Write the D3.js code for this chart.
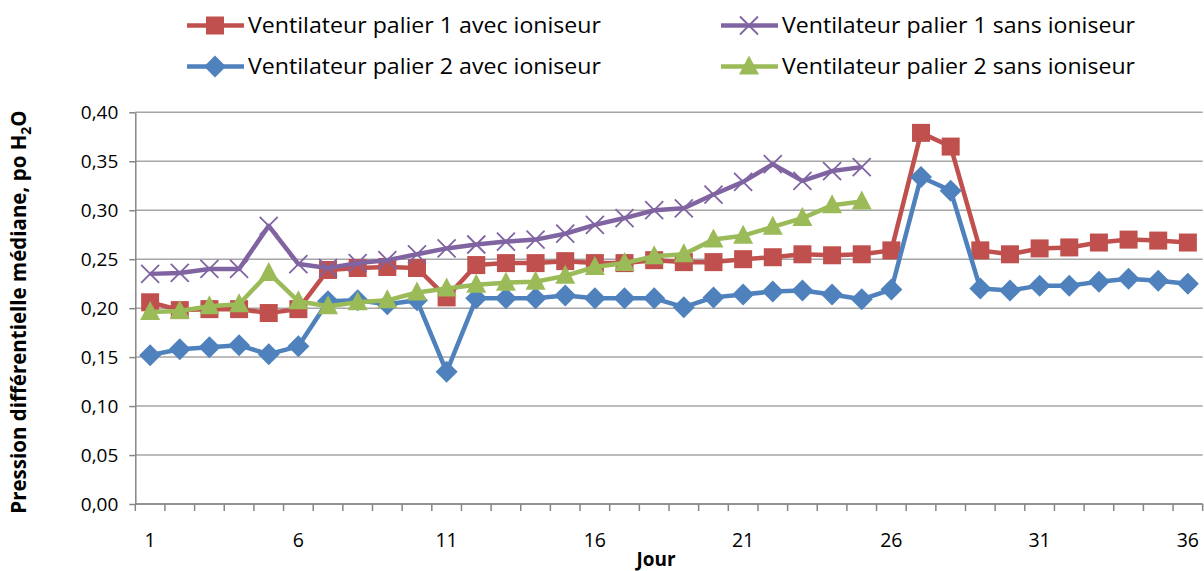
<!DOCTYPE html>
<html>
<head>
<meta charset="utf-8">
<script src="https://cdn.jsdelivr.net/npm/d3@7"></script>
<style>
  body { margin: 0; background: #fff; }
  svg { display: block; font-family: "Open Sans", sans-serif; }
</style>
</head>
<body>
<div id="graf"></div>
<script>
// jours 1..36
const jours = d3.range(1, 37);
const ticksX = [1, 6, 11, 16, 21, 26, 31, 36];
const ticksY = [0, 0.05, 0.10, 0.15, 0.20, 0.25, 0.30, 0.35, 0.40];

// palier 1 avec ioniseur (rouge)
const p1Avec = [0.206, 0.198, 0.199, 0.199, 0.195, 0.199, 0.239, 0.241, 0.242, 0.241,
  0.211, 0.244, 0.246, 0.246, 0.248, 0.246, 0.246, 0.249, 0.247, 0.247,
  0.250, 0.252, 0.255, 0.254, 0.255, 0.259, 0.379, 0.365, 0.259, 0.255,
  0.261, 0.262, 0.267, 0.270, 0.269, 0.267];
// palier 1 sans ioniseur (violet) - jusqu'au jour 25
const p1Sans = [0.235, 0.236, 0.240, 0.240, 0.284, 0.245, 0.241, 0.246, 0.249, 0.255,
  0.261, 0.265, 0.268, 0.270, 0.276, 0.285, 0.292, 0.300, 0.302, 0.316,
  0.329, 0.347, 0.330, 0.340, 0.344];
// palier 2 avec ioniseur (bleu)
const p2Avec = [0.152, 0.158, 0.160, 0.162, 0.153, 0.161, 0.207, 0.208, 0.204, 0.208,
  0.135, 0.210, 0.210, 0.210, 0.213, 0.210, 0.210, 0.210, 0.201, 0.211,
  0.214, 0.217, 0.218, 0.214, 0.209, 0.219, 0.334, 0.320, 0.220, 0.218,
  0.223, 0.223, 0.227, 0.230, 0.228, 0.225];
// palier 2 sans ioniseur (vert) - jusqu'au jour 25
const p2Sans = [0.196, 0.197, 0.202, 0.204, 0.236, 0.207, 0.202, 0.206, 0.208, 0.216,
  0.220, 0.224, 0.226, 0.227, 0.233, 0.242, 0.246, 0.253, 0.255, 0.270,
  0.274, 0.283, 0.292, 0.305, 0.309];

const series = [
  {nome: "Ventilateur palier 1 avec ioniseur", vals: p1Avec, cor: "#C0504D", marca: "quadrado"},
  {nome: "Ventilateur palier 1 sans ioniseur", vals: p1Sans, cor: "#8064A2", marca: "xis"},
  {nome: "Ventilateur palier 2 avec ioniseur", vals: p2Avec, cor: "#4F81BD", marca: "losango"},
  {nome: "Ventilateur palier 2 sans ioniseur", vals: p2Sans, cor: "#9BBB59", marca: "triangulo"}
];

const W = 1204, H = 571;
const esq = 135.3, dir = 1202.7, topo = 112.3, base = 504;

const svg = d3.select('#graf').append('svg')
  .attr('width', W).attr('height', H);

const x = d3.scaleBand().domain(jours).range([esq, dir]).paddingInner(0).paddingOuter(0);
const cx = d => x(d) + x.bandwidth() / 2;
const y = d3.scaleLinear().domain([0, 0.4]).range([base, topo]);

// grade
svg.append('g').selectAll('line').data(ticksY).join('line')
  .attr('x1', esq).attr('x2', dir)
  .attr('y1', d => y(d)).attr('y2', d => y(d))
  .attr('stroke', '#a6a6a6').attr('stroke-width', 1.5);

// eixo y
const eixoY = svg.append('g').attr('transform', `translate(${esq},0)`)
  .call(d3.axisLeft(y).tickValues(ticksY).tickSize(6).tickSizeOuter(0)
    .tickFormat(d => d3.format('.2f')(d).replace('.', ',')));
eixoY.select('.domain').attr('stroke', '#868686').attr('stroke-width', 1.5);
eixoY.selectAll('.tick line').attr('stroke', '#868686').attr('stroke-width', 1.5);
eixoY.selectAll('.tick text').attr('x', -17).attr('font-size', 19)
  .attr('font-family', '"Open Sans", sans-serif').attr('fill', '#000');

// eixo x (marcas nas fronteiras das categorias)
const fronteiras = d3.range(0, 37).map(i => esq + i * x.bandwidth());
svg.append('g').selectAll('line').data(fronteiras).join('line')
  .attr('x1', d => d).attr('x2', d => d)
  .attr('y1', base).attr('y2', base + 7)
  .attr('stroke', '#868686').attr('stroke-width', 1.5);
svg.append('line').attr('x1', esq).attr('x2', dir).attr('y1', base).attr('y2', base)
  .attr('stroke', '#868686').attr('stroke-width', 1.5);
svg.append('g').selectAll('text').data(ticksX).join('text')
  .attr('x', d => cx(d)).attr('y', 547)
  .attr('text-anchor', 'middle').attr('font-size', 19.5)
  .text(d => d);

svg.append('text').attr('x', 656).attr('y', 566)
  .attr('text-anchor', 'middle').attr('font-size', 19).attr('font-weight', 'bold')
  .text('Jour');

// titulo y
const tit = svg.append('text')
  .attr('transform', 'translate(26,312) rotate(-90)')
  .attr('text-anchor', 'middle').attr('font-size', 20.5).attr('font-weight', 'bold');
tit.append('tspan').text('Pression différentielle médiane, po H');
tit.append('tspan').attr('font-size', 14).attr('dy', 5).text('2');
tit.append('tspan').attr('dy', -5).text('O');

function desenhaMarca(g, tipo, cor, px, py) {
  if (tipo === 'quadrado') {
    g.append('rect').attr('x', px - 9).attr('y', py - 9).attr('width', 18).attr('height', 18)
      .attr('fill', cor);
  } else if (tipo === 'losango') {
    g.append('path').attr('d', `M${px},${py - 11}L${px + 11},${py}L${px},${py + 11}L${px - 11},${py}Z`)
      .attr('fill', cor);
  } else if (tipo === 'triangulo') {
    g.append('path').attr('d', `M${px},${py - 11}L${px + 10},${py + 8}L${px - 10},${py + 8}Z`)
      .attr('fill', cor);
  } else if (tipo === 'xis') {
    g.append('path').attr('d', `M${px - 9},${py - 9}L${px + 9},${py + 9}M${px - 9},${py + 9}L${px + 9},${py - 9}`)
      .attr('stroke', cor).attr('stroke-width', 1.8).attr('fill', 'none');
  }
}

const linha = d3.line().x((d, i) => cx(jours[i])).y(d => y(d));

for (const s of series) {
  const g = svg.append('g');
  g.append('path').datum(s.vals).attr('d', linha)
    .attr('fill', 'none').attr('stroke', s.cor).attr('stroke-width', 4.5)
    .attr('stroke-linejoin', 'round');
  s.vals.forEach((v, i) => desenhaMarca(g, s.marca, s.cor, cx(jours[i]), y(v)));
}

// legenda
const posLeg = [[187, 25.5], [721, 25.5], [187, 66.5], [721, 66.5]];
series.forEach((s, i) => {
  const [lx, ly] = posLeg[i];
  const g = svg.append('g');
  g.append('line').attr('x1', lx).attr('x2', lx + 57).attr('y1', ly).attr('y2', ly)
    .attr('stroke', s.cor).attr('stroke-width', 4.5);
  desenhaMarca(g, s.marca, s.cor, lx + 28, ly);
  g.append('text').attr('x', lx + 61).attr('y', ly + 7.5)
    .attr('font-size', 21).attr('textLength', 353).attr('lengthAdjust', 'spacingAndGlyphs')
    .text(s.nome);
});
</script>
</body>
</html>
